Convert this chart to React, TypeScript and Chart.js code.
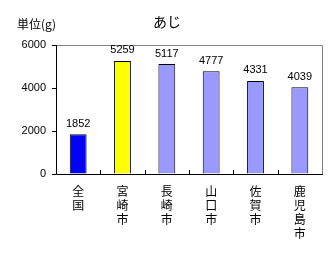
import React, { useEffect, useRef } from "react";
import { Chart, registerables } from "chart.js";

Chart.register(...registerables);

const categories: string[][] = [["全", "国"], ["宮", "崎", "市"], ["長", "崎", "市"], ["山", "口", "市"], ["佐", "賀", "市"], ["鹿", "児", "島", "市"]];
const values: number[] = [1852, 5259, 5117, 4777, 4331, 4039];
const barColors: string[] = ["#0000FF", "#FFFF00", "#9999FF", "#9999FF", "#9999FF", "#9999FF"];
const titleText = "あじ";
const unitText = "単位(g)";
const yMin = 0;
const yMax = 6000;
const yStep = 2000;

const decorPlugin = {
  id: "decor",
  afterDatasetsDraw(chart: any) {
    const { ctx, chartArea } = chart;
    const { left, right, top, bottom } = chartArea;
    ctx.save();
    ctx.strokeStyle = "#808080";
    ctx.lineWidth = 1;
    ctx.beginPath();
    ctx.moveTo(left, top + 0.5);
    ctx.lineTo(right + 0.5, top + 0.5);
    ctx.lineTo(right + 0.5, bottom);
    ctx.stroke();
    ctx.strokeStyle = "#000";
    ctx.beginPath();
    ctx.moveTo(left + 0.5, top);
    ctx.lineTo(left + 0.5, bottom + 0.5);
    ctx.lineTo(right + 1, bottom + 0.5);
    ctx.stroke();
    const n = categories.length;
    const w = (right - left) / n;
    ctx.beginPath();
    for (let i = 1; i < n; i++) {
      const x = Math.round(left + w * i) + 0.5;
      ctx.moveTo(x, bottom);
      ctx.lineTo(x, bottom - 4);
    }
    ctx.stroke();
    const meta = chart.getDatasetMeta(0);
    ctx.fillStyle = "#000";
    ctx.font = "11px 'Liberation Sans', Arial, sans-serif";
    ctx.textAlign = "center";
    ctx.textBaseline = "bottom";
    meta.data.forEach((el: any, i: number) => {
      ctx.fillText(String(values[i]), el.x, el.y - 5);
    });
    ctx.font = "14px 'Noto Sans CJK JP', sans-serif";
    ctx.textBaseline = "middle";
    ctx.textAlign = "center";
    ctx.fillText(titleText, 167, 22);
    ctx.font = "12px 'Noto Sans CJK JP', sans-serif";
    ctx.textAlign = "left";
    ctx.fillText(unitText, 17, 24);
    ctx.restore();
  },
};

export default function App() {
  const ref = useRef<HTMLCanvasElement | null>(null);
  useEffect(() => {
    if (!ref.current) return;
    const chart = new Chart(ref.current, {
      type: "bar",
      data: {
        labels: categories,
        datasets: [
          {
            data: values,
            backgroundColor: barColors,
            borderColor: "#000",
            borderWidth: 1,
            categoryPercentage: 1,
            barPercentage: 0.38,
          },
        ],
      },
      options: {
        responsive: false,
        animation: false,
        layout: { padding: { left: 0, top: 45, right: 13, bottom: 0 } },
        plugins: { legend: { display: false }, tooltip: { enabled: false } },
        scales: {
          x: {
            grid: { display: false },
            border: { display: false },
            ticks: {
              color: "#000",
              padding: 3,
              maxRotation: 0,
              autoSkip: false,
              font: { family: "'Noto Sans CJK JP', sans-serif", size: 12, lineHeight: 1.15 },
            },
            afterFit(scale: any) {
              scale.height = 81;
            },
          },
          y: {
            min: yMin,
            max: yMax,
            grid: { drawOnChartArea: false, drawTicks: true, tickLength: 4, color: "#000" },
            border: { display: false },
            ticks: {
              stepSize: yStep,
              color: "#000",
              padding: 6,
              font: { family: "'Liberation Sans', Arial, sans-serif", size: 11 },
              callback: (v: any) => String(v),
            },
            afterFit(scale: any) {
              scale.width = 56;
            },
          },
        },
      },
      plugins: [decorPlugin],
    });
    return () => chart.destroy();
  }, []);
  return (
    <div style={{ position: "fixed", left: 0, top: 0, width: 335, height: 255, background: "#fff" }}>
      <canvas ref={ref} width={335} height={255} />
    </div>
  );
}
